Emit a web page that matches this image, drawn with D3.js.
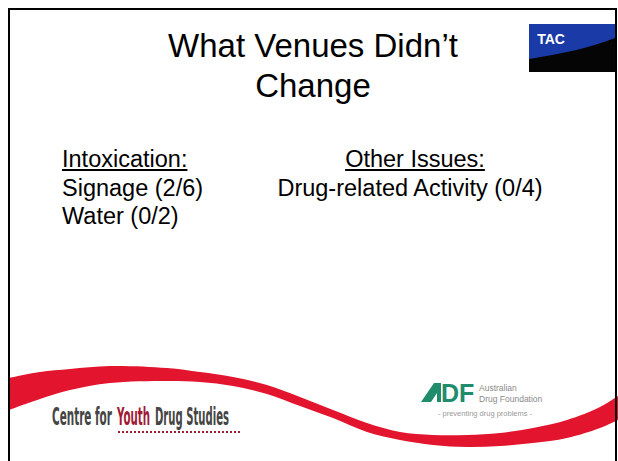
<!DOCTYPE html>
<html>
<head>
<meta charset="utf-8">
<script src="https://cdn.jsdelivr.net/npm/d3@7"></script>
<style>
  html, body { margin: 0; padding: 0; background: #fff; }
  text { font-family: "Liberation Sans", Arial, sans-serif; }
</style>
</head>
<body>
<div id="slide"></div>
<script>
const width = 618;
const height = 461;

// slide content
const titleLines = ["What Venues Didn\u2019t", "Change"];
const groupHeads = ["Intoxication:", "Other Issues:"];
const intoxicationItems = ["Signage", "Water"];
const intoxicationChanged = [2, 0];
const intoxicationTotal = [6, 2];
const otherItems = ["Drug-related Activity"];
const otherChanged = [0];
const otherTotal = [4];
const footerWords = ["Centre for", "Youth", "Drug Studies"];
const adfLines = ["Australian", "Drug Foundation"];
const adfTagline = "- preventing drug problems -";

let svg = d3.select("#slide")
  .append("svg")
  .attr("width", width)
  .attr("height", height);

svg.append("rect")
  .attr("width", width)
  .attr("height", height)
  .attr("fill", "#fff");

// red swoosh across the bottom (decoration)
const swoosh = [
  [9, 378, 410], [40, 372, 399], [70, 369, 390], [110, 366, 383], [167, 368, 381],
  [200, 372, 382], [233, 377, 386], [267, 385, 394], [300, 397, 406], [333, 410, 418],
  [367, 423, 432], [400, 432, 440], [433, 435, 445], [467, 435, 447], [500, 433, 446],
  [533, 428, 443], [567, 420, 438], [600, 407, 428], [618, 396, 420]
];
const band = d3.area()
  .x(d => d[0])
  .y0(d => d[1])
  .y1(d => d[2])
  .curve(d3.curveCatmullRom);
svg.append("path")
  .attr("d", band(swoosh))
  .attr("fill", "#e3142d");

// title
const titleY = d3.scaleLinear().domain([0, 1]).range([57, 97]);
svg.selectAll(".title")
  .data(titleLines)
  .enter().append("text")
  .attr("class", "title")
  .attr("x", 313)
  .attr("y", (d, i) => titleY(i))
  .attr("text-anchor", "middle")
  .attr("font-size", 33)
  .attr("fill", "#000")
  .text(d => d);

// two columns of items
const lineY = d3.scaleLinear().domain([0, 1]).range([167, 195.5]);

function column(head, names, changed, total, x, itemX, anchor) {
  let h = svg.append("text")
    .attr("x", x)
    .attr("y", lineY(0))
    .attr("text-anchor", anchor)
    .attr("font-size", 23.5)
    .text(head);
  let w = h.node().getComputedTextLength();
  let x0 = anchor == "middle" ? x - w / 2 : x;
  svg.append("line")
    .attr("x1", x0).attr("x2", x0 + w)
    .attr("y1", lineY(0) + 3).attr("y2", lineY(0) + 3)
    .attr("stroke", "#000")
    .attr("stroke-width", 1.8);

  svg.selectAll(null)
    .data(names)
    .enter().append("text")
    .attr("x", itemX)
    .attr("y", (d, i) => lineY(i + 1))
    .attr("text-anchor", anchor)
    .attr("font-size", 23.5)
    .text((d, i) => d + " (" + changed[i] + "/" + total[i] + ")");
}

column(groupHeads[0], intoxicationItems, intoxicationChanged, intoxicationTotal, 62, 62, "start");
column(groupHeads[1], otherItems, otherChanged, otherTotal, 415, 410, "middle");

// TAC logo
svg.append("rect")
  .attr("x", 529).attr("y", 24)
  .attr("width", 86).attr("height", 48)
  .attr("fill", "#050505");
svg.append("path")
  .attr("d", "M529,24 H615 V38 C590,48 560,54 529,59 Z")
  .attr("fill", "#1a3aa8");
svg.append("text")
  .attr("x", 551).attr("y", 44)
  .attr("text-anchor", "middle")
  .attr("font-size", 14)
  .attr("font-weight", "bold")
  .attr("fill", "#fff")
  .text("TAC");

// Centre for Youth Drug Studies: condensed by squeezing each word group
const footerX = [52, 117, 155];
const footerW = [60, 33, 74];
svg.selectAll(".cyds")
  .data(footerWords)
  .enter().append("text")
  .attr("class", "cyds")
  .attr("x", 0)
  .attr("y", 0)
  .attr("font-size", 24)
  .attr("font-weight", "bold")
  .attr("fill", (d, i) => i == 1 ? "#a01a34" : "#454545")
  .style("font-family", "'DejaVu Sans Condensed', 'Liberation Sans Narrow', sans-serif")
  .text(d => d)
  .attr("transform", function (d, i) {
    let natural = this.getComputedTextLength();
    return "translate(" + footerX[i] + ",425) scale(" + (footerW[i] / natural) + ",1)";
  });
svg.append("line")
  .attr("x1", 118).attr("x2", 242)
  .attr("y1", 432).attr("y2", 432)
  .attr("stroke", "#a01a34")
  .attr("stroke-width", 2)
  .attr("stroke-dasharray", "2,2");

// ADF logo
svg.append("path")
  .attr("d", "M421,402 L434,383 L441,383 L441,402 Z M431,402 L437,393 L437,402 Z")
  .attr("fill", "#1f8c6c")
  .attr("fill-rule", "evenodd");
svg.append("text")
  .attr("x", 441).attr("y", 402)
  .attr("font-size", 25)
  .attr("font-weight", "bold")
  .attr("fill", "#1f8c6c")
  .text("DF");
svg.selectAll(".adf")
  .data(adfLines)
  .enter().append("text")
  .attr("class", "adf")
  .attr("x", 479)
  .attr("y", (d, i) => 391 + i * 11)
  .attr("font-size", 8.5)
  .attr("fill", "#8a8a8a")
  .text(d => d);
svg.append("text")
  .attr("x", 485).attr("y", 416)
  .attr("text-anchor", "middle")
  .attr("font-size", 7.5)
  .attr("fill", "#9a9a9a")
  .text(adfTagline);

// frame
svg.append("path")
  .attr("d", "M9,461 V9 H616 V461")
  .attr("fill", "none")
  .attr("stroke", "#000")
  .attr("stroke-width", 2);
</script>
</body>
</html>
